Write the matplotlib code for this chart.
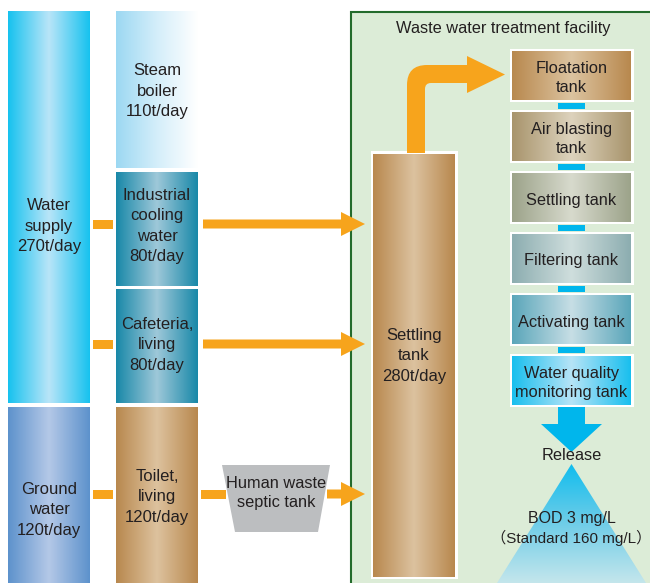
import numpy as np
import matplotlib
matplotlib.use("Agg")
import matplotlib.pyplot as plt
from matplotlib.colors import LinearSegmentedColormap
from matplotlib.patches import Rectangle, Polygon, PathPatch
from matplotlib.path import Path

plt.rcParams['font.family'] = ['Liberation Sans', 'Noto Sans CJK JP']

# data
source_names = ["Water\nsupply", "Ground\nwater"]
source_flows = [270, 120]
use_names = ["Steam\nboiler", "Industrial\ncooling\nwater", "Cafeteria,\nliving", "Toilet,\nliving"]
use_flows = [110, 80, 80, 120]
settling_flow = 280
process_steps = ["Floatation\ntank", "Air blasting\ntank", "Settling tank",
                 "Filtering tank", "Activating tank", "Water quality\nmonitoring tank"]
bod_release = 3
bod_standard = 160

TXT = '#231f20'
ORANGE = '#f7a41c'
CYAN = '#00b6ec'
FS = 12

fig = plt.figure(figsize=(6.5, 5.83), dpi=100)
ax = fig.add_axes([0, 0, 1, 1])
ax.set_xlim(0, 650)
ax.set_ylim(583, 0)
ax.axis('off')


def hgrad(x0, x1, y0, y1, colors, z=2, clip=None):
    cmap = LinearSegmentedColormap.from_list('g', colors)
    im = ax.imshow(np.linspace(0, 1, 256)[None, :], cmap=cmap, extent=(x0, x1, y1, y0),
                   aspect='auto', interpolation='bilinear', zorder=z)
    if clip is not None:
        im.set_clip_path(clip)
    return im


# facility background
ax.add_patch(Rectangle((351, 12), 310, 590, facecolor='#dcecd7', edgecolor='#236b2c', lw=1.5, zorder=0))
ax.text(503, 29, "Waste water treatment facility", ha='center', va='center', fontsize=11.8, color=TXT)

scale = 1.42
gap = 4

# source columns
c_supply = ['#16c2ef', '#b9e5f8', '#16c2ef']
c_ground = ['#5d92cc', '#b4c8e7', '#5d92cc']
top = 12
h = sum(use_flows[:3]) * scale + 2 * gap
hgrad(8, 90, top, top + h, c_supply)
ax.text(49, 226, f"{source_names[0]}\n{source_flows[0]}t/day", ha='center', va='center',
        fontsize=FS, color=TXT, linespacing=1.45)
g0 = top + h + gap
hgrad(8, 90, g0, 590, c_ground)
ax.text(49, 510, f"{source_names[1]}\n{source_flows[1]}t/day", ha='center', va='center',
        fontsize=FS, color=TXT, linespacing=1.45)

# use columns
use_colors = [['#9cd8f2', '#d4eefa', '#ffffff'],
              ['#1888a8', '#9ec8d9', '#1888a8'],
              ['#1888a8', '#9ec8d9', '#1888a8'],
              ['#b8884e', '#ddc29e', '#b8884e']]
text_y = [91, 226, 345, 497]
y = top
for i, (name, flow) in enumerate(zip(use_names, use_flows)):
    y1 = y + flow * scale if i < 3 else 590
    if i == 3:
        y = g0
    hgrad(116, 198, y, y1, use_colors[i])
    ax.text(157, text_y[i], f"{name}\n{flow}t/day", ha='center', va='center',
            fontsize=FS, color=TXT, linespacing=1.45)
    y = y1 + gap


def arrow(x0, x1, yc, w=4.5, hw=12, hl=24):
    pts = [(x0, yc - w), (x1 - hl, yc - w), (x1 - hl, yc - hw), (x1, yc),
           (x1 - hl, yc + hw), (x1 - hl, yc + w), (x0, yc + w)]
    ax.add_patch(Polygon(pts, closed=True, facecolor=ORANGE, edgecolor='none', zorder=3))


def dash(x0, x1, yc, w=4.5):
    ax.add_patch(Rectangle((x0, yc - w), x1 - x0, 2 * w, facecolor=ORANGE, edgecolor='none', zorder=3))


for yc in [224, 344]:
    dash(93, 113, yc)
    arrow(203, 365, yc)
dash(93, 113, 494)
dash(201, 226, 494)
arrow(327, 365, 494)

# septic tank
ax.add_patch(Polygon([(222, 465), (330, 465), (318, 532), (235, 532)], closed=True,
                     facecolor='#bcbec0', edgecolor='none', zorder=3))
ax.text(276, 493, "Human waste\nseptic tank", ha='center', va='center', fontsize=11.8, color=TXT,
        linespacing=1.4, zorder=4)

# settling tank
c_brown = ['#b8884e', '#dcc29f', '#b8884e']
ax.add_patch(Rectangle((370.5, 151), 87, 428, facecolor='white', edgecolor='none', zorder=1))
hgrad(373, 455, 154, 577, c_brown)
ax.text(414, 356, f"Settling\ntank\n{settling_flow}t/day", ha='center', va='center',
        fontsize=FS, color=TXT, linespacing=1.45)

# elbow arrow
R, r = 20, 6
verts = [(407, 153), (407, 65 + R), (407, 65), (407 + R, 65), (467, 65), (467, 56), (505, 74.5),
         (467, 93), (467, 83), (425 + r, 83), (425, 83), (425, 83 + r), (425, 153), (407, 153)]
codes = [Path.MOVETO, Path.LINETO, Path.CURVE3, Path.CURVE3, Path.LINETO, Path.LINETO, Path.LINETO,
         Path.LINETO, Path.LINETO, Path.LINETO, Path.CURVE3, Path.CURVE3, Path.LINETO, Path.CLOSEPOLY]
ax.add_patch(PathPatch(Path(verts, codes), facecolor=ORANGE, edgecolor='none', zorder=3))

# process tanks
step_colors = [['#b8884e', '#dcc4a0', '#b8884e'],
               ['#a8946c', '#ddd3bd', '#a8946c'],
               ['#9ca38a', '#d7dacd', '#9ca38a'],
               ['#8cadb0', '#cfdedd', '#8cadb0'],
               ['#5aa6ba', '#c7dee5', '#5aa6ba'],
               ['#19bfee', '#b6e4f7', '#19bfee']]
for i, name in enumerate(process_steps):
    t = 49 + 61 * i
    ax.add_patch(Rectangle((509.5, t), 124, 53, facecolor='white', edgecolor='none', zorder=1))
    hgrad(512, 631, t + 2.3, t + 50.7, step_colors[i])
    ax.text(571.5, t + 29, name, ha='center', va='center', fontsize=11.8, color=TXT,
            linespacing=1.4, zorder=4)
    if i < len(process_steps) - 1:
        ax.add_patch(Rectangle((558, t + 54), 27, 6, facecolor=CYAN, edgecolor='none', zorder=1))

# release arrow
ax.add_patch(Polygon([(558, 407), (585, 407), (585, 424), (602, 424), (571.5, 452), (541, 424), (558, 424)],
                     closed=True, facecolor=CYAN, edgecolor='none', zorder=3))
ax.text(571.5, 456, "Release", ha='center', va='center', fontsize=11.8, color=TXT)

# cone
cone = Polygon([(571.5, 464), (646, 583), (497, 583)], closed=True, facecolor='none', edgecolor='none')
ax.add_patch(cone)
cmap = LinearSegmentedColormap.from_list('c', ['#10bdee', '#6fcde8', '#c4e6ec'])
im = ax.imshow(np.linspace(0, 1, 256)[:, None], cmap=cmap, extent=(497, 646, 583, 464),
               aspect='auto', interpolation='bilinear', zorder=2)
im.set_clip_path(cone)
ax.text(571.5, 518, f"BOD {bod_release} mg/L", ha='center', va='center', fontsize=11.5, color=TXT, zorder=4)
ax.text(571, 538, f"（Standard {bod_standard} mg/L）", ha='center', va='center', fontsize=11,
        color=TXT, zorder=4)

ax.set_xlim(0, 650)
ax.set_ylim(583, 0)
fig.savefig("out.png", dpi=100)
